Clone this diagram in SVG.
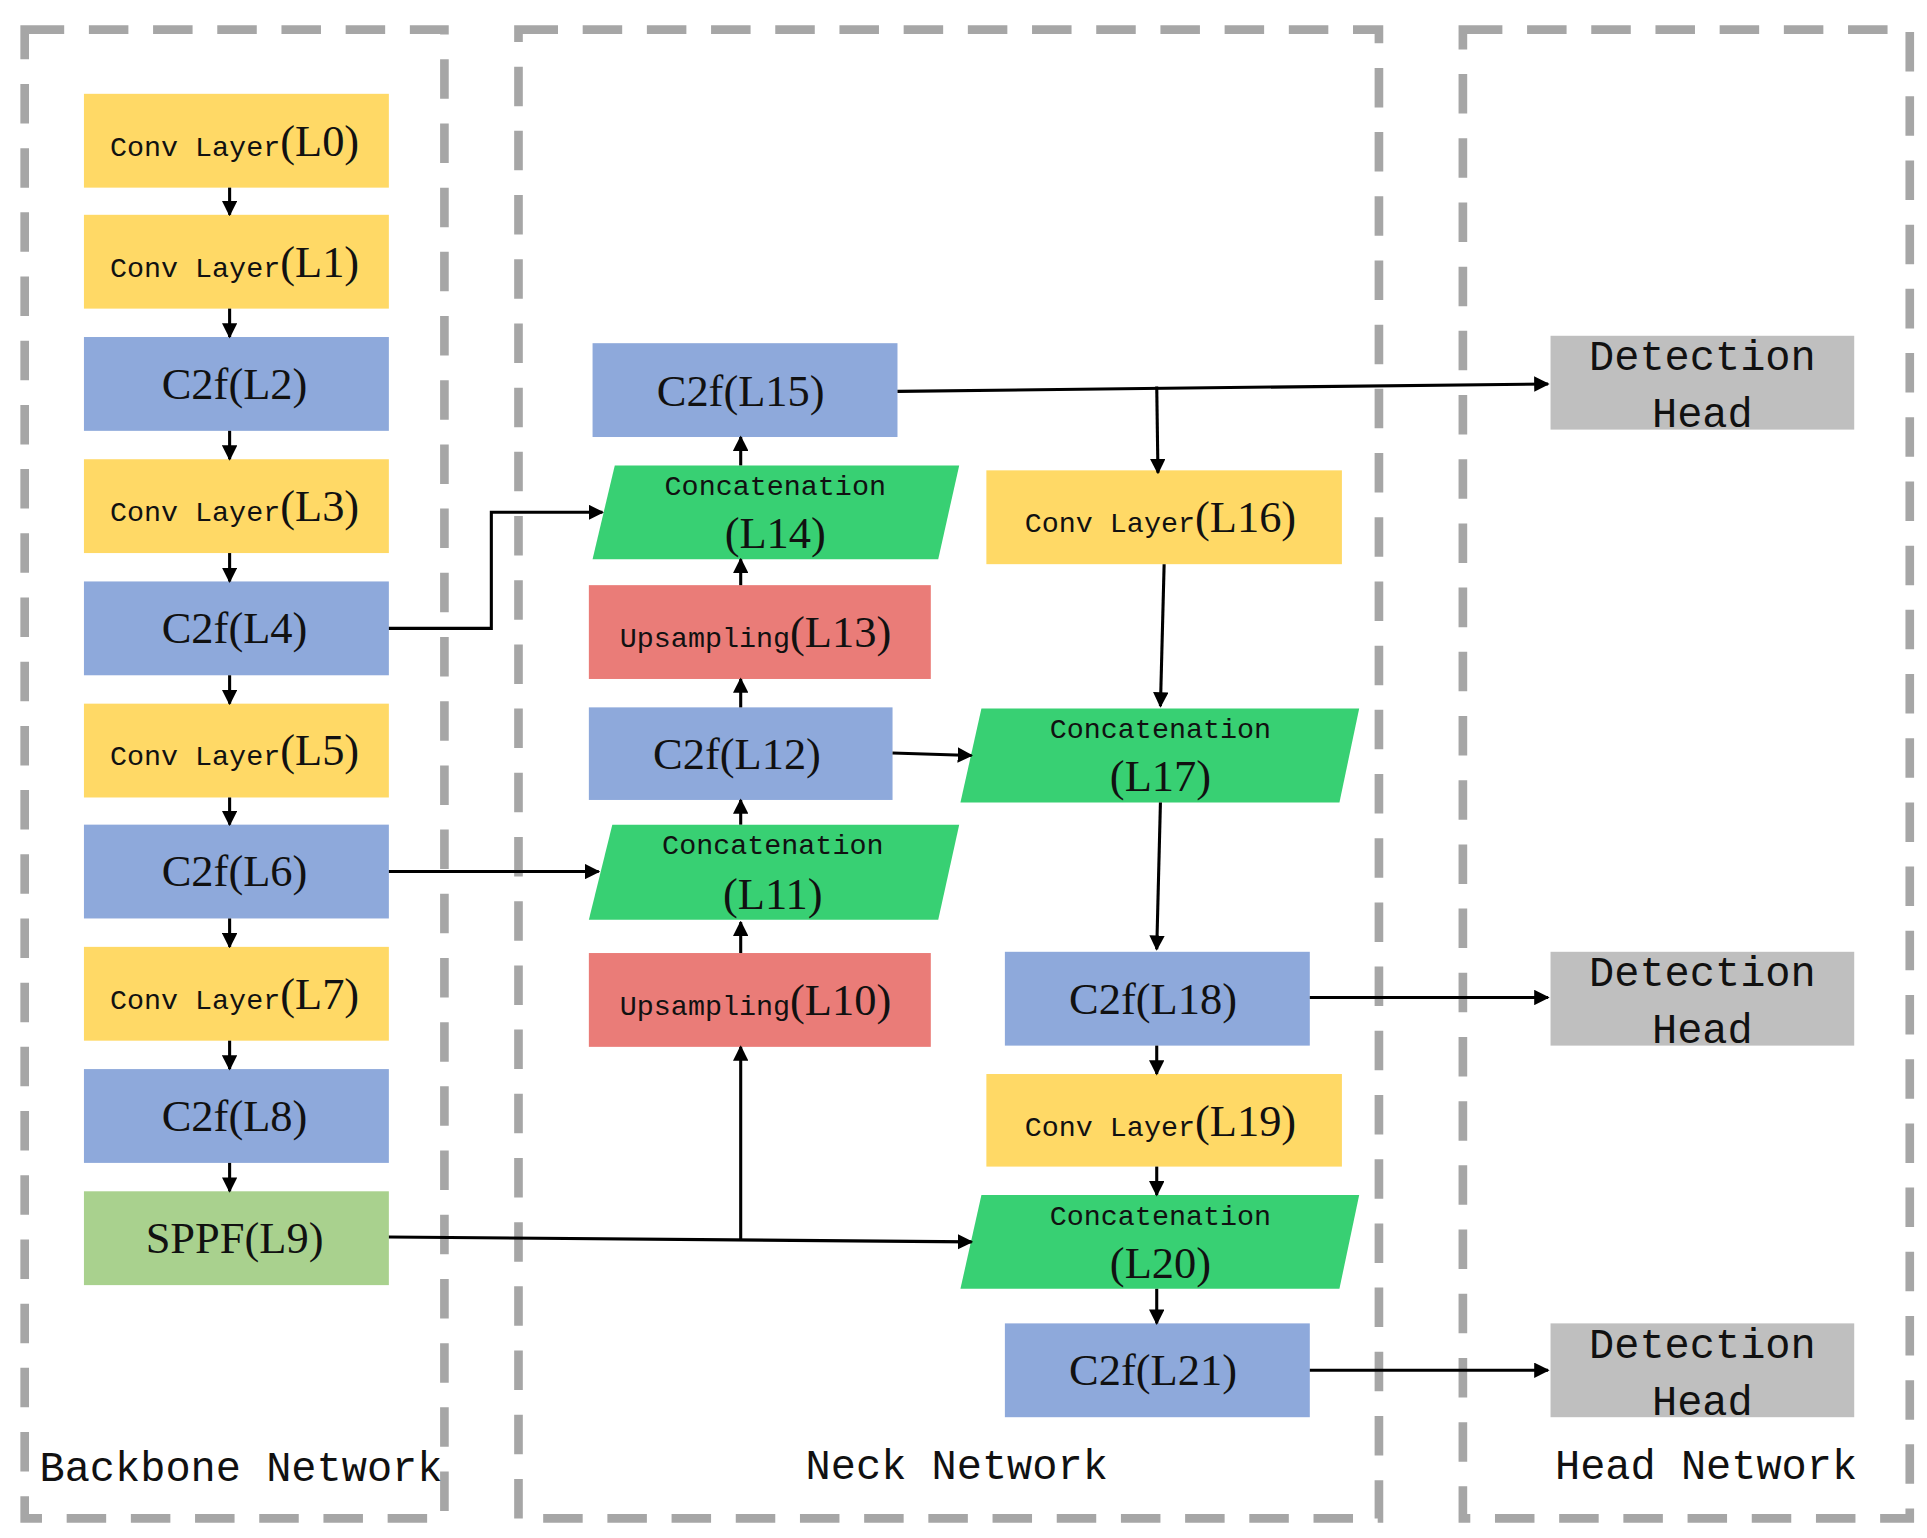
<svg xmlns="http://www.w3.org/2000/svg" width="1927" height="1538" viewBox="0 0 1927 1538">
<defs>
<marker id="ah" viewBox="0 0 10 10" refX="9" refY="5" markerWidth="5" markerHeight="5" orient="auto" markerUnits="strokeWidth"><path d="M0,0 L10,5 L0,10 z" fill="#000"/></marker>
<style>
.frame{fill:none;stroke:#a6a6a6;stroke-width:7;stroke-dasharray:32 20}
.y{fill:#FFD966}.b{fill:#8EA9DB}.r{fill:#EA7C78}.g{fill:#38D073}.s{fill:#A9D18E}.h{fill:#BFBFBF}
text{font-family:"Liberation Serif","Noto Sans CJK SC",serif;fill:#111;text-anchor:middle}
.sm{font-family:"Liberation Mono",monospace;font-size:23px}
.lg{font-size:36px}
.lab{font-family:"Liberation Mono",monospace;font-size:34px}
.c{fill:none;stroke:#000;stroke-width:2.5;marker-end:url(#ah)}
.cn{fill:none;stroke:#000;stroke-width:2.5}
</style>
</defs>
<rect width="1927" height="1538" fill="#fff"/>
<g transform="scale(1.2345)">
<g id="frames">
<rect class="frame" x="20" y="24" width="340" height="1206"/>
<rect class="frame" x="420" y="24" width="697" height="1206"/>
<rect class="frame" x="1185" y="24" width="362" height="1206"/>
</g>
<g id="L0"><rect class="y" x="68" y="76" width="247" height="76"/><text x="190" y="126"><tspan class="sm">Conv Layer</tspan><tspan class="lg">(L0)</tspan></text></g>
<g id="L1"><rect class="y" x="68" y="174" width="247" height="76"/><text x="190" y="224"><tspan class="sm">Conv Layer</tspan><tspan class="lg">(L1)</tspan></text></g>
<g id="L2"><rect class="b" x="68" y="273" width="247" height="76"/><text class="lg" x="190" y="323">C2f(L2)</text></g>
<g id="L3"><rect class="y" x="68" y="372" width="247" height="76"/><text x="190" y="422"><tspan class="sm">Conv Layer</tspan><tspan class="lg">(L3)</tspan></text></g>
<g id="L4"><rect class="b" x="68" y="471" width="247" height="76"/><text class="lg" x="190" y="521">C2f(L4)</text></g>
<g id="L5"><rect class="y" x="68" y="570" width="247" height="76"/><text x="190" y="620"><tspan class="sm">Conv Layer</tspan><tspan class="lg">(L5)</tspan></text></g>
<g id="L6"><rect class="b" x="68" y="668" width="247" height="76"/><text class="lg" x="190" y="718">C2f(L6)</text></g>
<g id="L7"><rect class="y" x="68" y="767" width="247" height="76"/><text x="190" y="817"><tspan class="sm">Conv Layer</tspan><tspan class="lg">(L7)</tspan></text></g>
<g id="L8"><rect class="b" x="68" y="866" width="247" height="76"/><text class="lg" x="190" y="916">C2f(L8)</text></g>
<g id="L9"><rect class="s" x="68" y="965" width="247" height="76"/><text class="lg" x="190" y="1015">SPPF(L9)</text></g>

<g id="L15"><rect class="b" x="480" y="278" width="247" height="76"/><text class="lg" x="600" y="329">C2f(L15)</text></g>
<g id="L14"><polygon class="g" points="498,377 777,377 760,453 480,453"/><text class="sm" x="628" y="401">Concatenation</text><text class="lg" x="628" y="444">(L14)</text></g>
<g id="L13"><rect class="r" x="477" y="474" width="277" height="76"/><text x="612" y="524"><tspan class="sm">Upsampling</tspan><tspan class="lg">(L13)</tspan></text></g>
<g id="L12"><rect class="b" x="477" y="573" width="246" height="75"/><text class="lg" x="597" y="623">C2f(L12)</text></g>
<g id="L11"><polygon class="g" points="496,668 777,668 760,745 477,745"/><text class="sm" x="626" y="692">Concatenation</text><text class="lg" x="626" y="736">(L11)</text></g>
<g id="L10"><rect class="r" x="477" y="772" width="277" height="76"/><text x="612" y="822"><tspan class="sm">Upsampling</tspan><tspan class="lg">(L10)</tspan></text></g>
<g id="L16"><rect class="y" x="799" y="381" width="288" height="76"/><text x="940" y="431"><tspan class="sm">Conv Layer</tspan><tspan class="lg">(L16)</tspan></text></g>
<g id="L17"><polygon class="g" points="795,574 1101,574 1085,650 778,650"/><text class="sm" x="940" y="598">Concatenation</text><text class="lg" x="940" y="641">(L17)</text></g>
<g id="L18"><rect class="b" x="814" y="771" width="247" height="76"/><text class="lg" x="934" y="821">C2f(L18)</text></g>
<g id="L19"><rect class="y" x="799" y="870" width="288" height="75"/><text x="940" y="920"><tspan class="sm">Conv Layer</tspan><tspan class="lg">(L19)</tspan></text></g>
<g id="L20"><polygon class="g" points="795,968 1101,968 1085,1044 778,1044"/><text class="sm" x="940" y="992">Concatenation</text><text class="lg" x="940" y="1035">(L20)</text></g>
<g id="L21"><rect class="b" x="814" y="1072" width="247" height="76"/><text class="lg" x="934" y="1122">C2f(L21)</text></g>

<g id="DH1"><rect class="h" x="1256" y="272" width="246" height="76"/><text class="lab" x="1379" y="300">Detection</text><text class="lab" x="1379" y="346">Head</text></g>
<g id="DH2"><rect class="h" x="1256" y="771" width="246" height="76"/><text class="lab" x="1379" y="799">Detection</text><text class="lab" x="1379" y="845">Head</text></g>
<g id="DH3"><rect class="h" x="1256" y="1072" width="246" height="76"/><text class="lab" x="1379" y="1100">Detection</text><text class="lab" x="1379" y="1146">Head</text></g>

<g id="labels">
<text class="lab" x="32" y="1200" style="text-anchor:start">Backbone Network</text>
<text class="lab" x="775" y="1198">Neck Network</text>
<text class="lab" x="1382" y="1198">Head Network</text>
</g>

<g id="connectors">
<line class="c" x1="186" y1="152" x2="186" y2="174"/>
<line class="c" x1="186" y1="250" x2="186" y2="273"/>
<line class="c" x1="186" y1="349" x2="186" y2="372"/>
<line class="c" x1="186" y1="448" x2="186" y2="471"/>
<line class="c" x1="186" y1="547" x2="186" y2="570"/>
<line class="c" x1="186" y1="646" x2="186" y2="668"/>
<line class="c" x1="186" y1="744" x2="186" y2="767"/>
<line class="c" x1="186" y1="843" x2="186" y2="866"/>
<line class="c" x1="186" y1="942" x2="186" y2="965"/>
<polyline class="c" points="315,509 398,509 398,415 488,415"/>
<line class="c" x1="315" y1="706" x2="485" y2="706"/>
<line class="c" x1="315" y1="1002" x2="787" y2="1006"/>
<line class="c" x1="600" y1="1004" x2="600" y2="848"/>
<line class="c" x1="600" y1="772" x2="600" y2="747"/>
<line class="c" x1="600" y1="668" x2="600" y2="648"/>
<line class="c" x1="600" y1="573" x2="600" y2="550"/>
<line class="c" x1="600" y1="474" x2="600" y2="453"/>
<line class="c" x1="600" y1="377" x2="600" y2="354"/>
<line class="c" x1="723" y1="610" x2="787" y2="612"/>
<line class="c" x1="727" y1="317" x2="1254" y2="311"/>
<line class="c" x1="937" y1="313" x2="938" y2="383"/>
<line class="c" x1="943" y1="457" x2="940" y2="572"/>
<line class="c" x1="940" y1="650" x2="937" y2="769"/>
<line class="c" x1="937" y1="847" x2="937" y2="870"/>
<line class="c" x1="937" y1="945" x2="937" y2="968"/>
<line class="c" x1="937" y1="1044" x2="937" y2="1072"/>
<line class="c" x1="1061" y1="808" x2="1254" y2="808"/>
<line class="c" x1="1061" y1="1110" x2="1254" y2="1110"/>
</g>
</g>
</svg>
